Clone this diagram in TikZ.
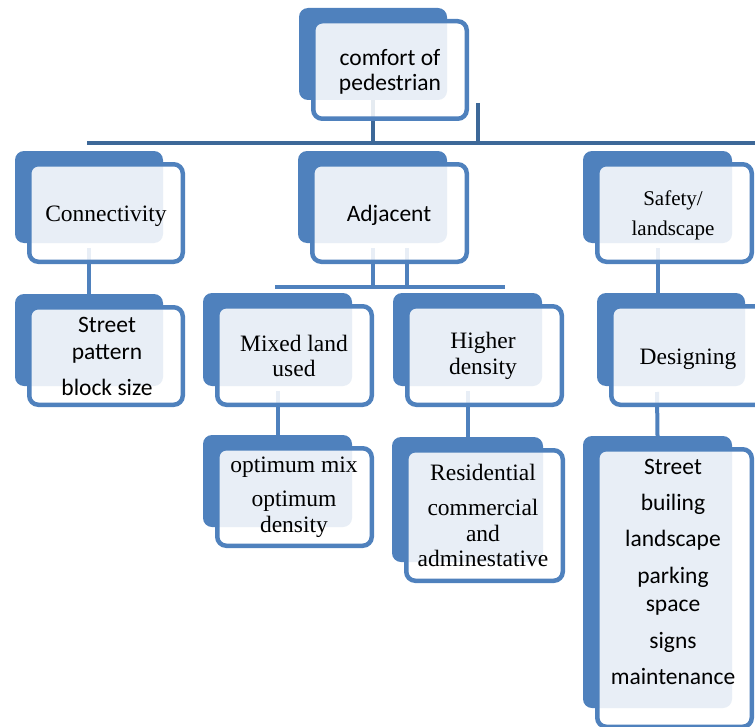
\documentclass[tikz,border=0pt]{standalone}
\usepackage{fontspec}
\setmainfont{Liberation Serif}
\newfontfamily\calfont{Carlito}
\usetikzlibrary{backgrounds,fit}
\definecolor{accent}{HTML}{4F81BD}
\definecolor{linkdark}{HTML}{3D6898}
\tikzset{
  backbox/.style={fill=accent, draw=none, rounded corners=9bp, inner sep=0pt},
  frontbox/.style={draw=accent, line width=4.5bp, fill=white, fill opacity=0.87, draw opacity=1, rounded corners=9bp, inner sep=0pt},
  lbl/.style={align=center, inner sep=0pt, text=black, text opacity=1},
  serifl/.style={font=\fontsize{23.5bp}{25.5bp}\selectfont},
  sansl/.style={font=\calfont\fontsize{23.5bp}{25.5bp}\selectfont},
  smallserif/.style={font=\fontsize{21bp}{30bp}\selectfont},
  link/.style={draw=accent, line width=4bp},
  toplink/.style={draw=linkdark, line width=4bp},
}
% name, back x1, y1, x2, y2
\newcommand\pbox[5]{%
  \node[backbox, fit={(#2,#3) (#4,#5)}] (#1b) {};
  \node[frontbox, fit={(#2+14.25,#3+13.25) (#4+19.75,#5+18.75)}] (#1f) {};
}
\begin{document}
\begin{tikzpicture}[x=1bp, y=-1bp]
\useasboundingbox (0,0) rectangle (755,727);
\clip (0,0) rectangle (755,727);

\pbox{cp}{299}{8}{447}{100}
\pbox{cn}{15}{151}{163}{243}
\pbox{ad}{298}{151}{447}{243}
\pbox{sf}{583}{151}{732}{243}
\pbox{sp}{15}{294}{163}{386}
\pbox{mx}{203}{293}{352}{386}
\pbox{hd}{393}{293}{542}{386}
\pbox{ds}{597}{293}{745}{386}
\pbox{op}{203}{435}{352}{527}
\pbox{rs}{392}{437}{543}{562}
\pbox{ls}{583}{436}{732}{708}

\node[lbl,sansl] (t1) at (390,72) {comfort of\\pedestrian};
\node[lbl,serifl] (t2) at (106,216) {Connectivity};
\node[lbl,sansl] (t3) at (389,215) {Adjacent};
\node[lbl,smallserif] (t4) at (673,215) {Safety/\\landscape};
\node[lbl,sansl] (t5) at (107,356.5) {Street\\[1.5bp]pattern\\[10.5bp]block size};
\node[lbl,serifl] (t6) at (294,356) {Mixed land\\used};
\node[lbl,serifl] (t7) at (483,356) {Higher\\density};
\node[lbl,serifl] (t8) at (688,359.5) {Designing};
\node[lbl,serifl] (t9) at (294,497.5) {optimum mix\\[8.5bp]optimum\\density};
\node[lbl,serifl] (t10) at (483,515.5) {Residential\\[9.5bp]commercial\\and\\adminestative};
\node[lbl,sansl] (t11) at (673,572) {Street\\[10.5bp]builing\\[10.5bp]landscape\\[11.5bp]parking\\[2.5bp]space\\[11.5bp]signs\\[10.5bp]maintenance};

\coordinate (barL) at (87,143);
\coordinate (barR) at (760,143);
\coordinate (xtop) at (478,103);
\coordinate (bar2L) at (275,287);
\coordinate (bar2R) at (505,287);
\coordinate (adj2) at (407,248);
\coordinate (dsx) at (657,392);

\begin{scope}[on background layer]
  \draw[toplink] (barL) -- (barR);
  \draw[toplink] (cpb.south) -- (cpb.south |- barL);
  \draw[toplink] (xtop) -- (xtop |- barL);
  \draw[link] ([yshift=-5bp]cnb.south) -- (spb.north);
  \draw[link] (bar2L) -- (bar2R);
  \draw[link] ([yshift=-5bp]adb.south) -- (adb.south |- bar2L);
  \draw[link] (adj2) -- (adj2 |- bar2L);
  \draw[link] ([yshift=-5bp]sfb.south) -- (sfb.south |- dsb.north);
  \draw[link] ([yshift=-5bp]mxb.south) -- (opb.north);
  \draw[link] ([yshift=-5bp]hdb.south) -- (rsb.north);
  \draw[link] (dsx) -- (lsb.north);
\end{scope}
\end{tikzpicture}
\end{document}
